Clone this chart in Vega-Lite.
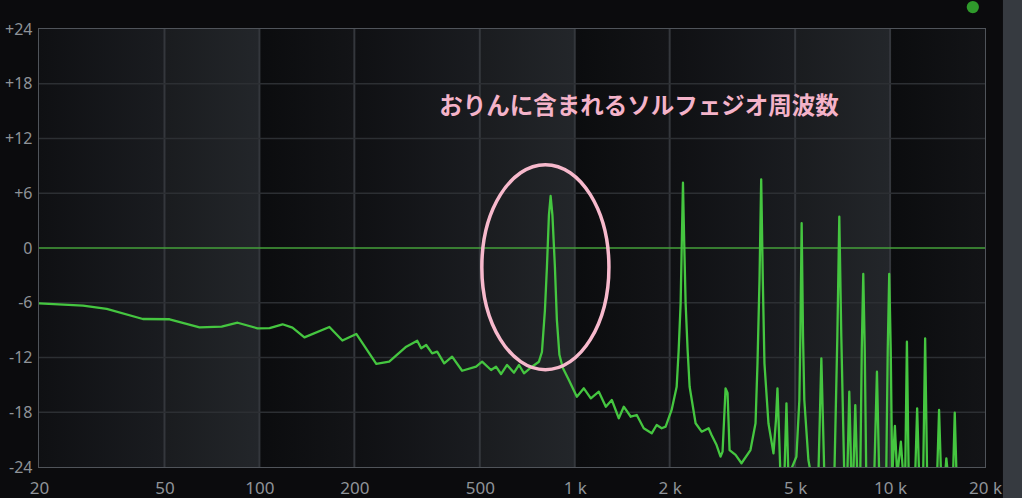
{
  "$schema": "https://vega.github.io/schema/vega-lite/v6.json",
  "width": 946,
  "height": 438,
  "autosize": "none",
  "padding": {"left": 39, "top": 29, "right": 37, "bottom": 31},
  "background": "#0b0b0d",
  "config": {
    "view": {"stroke": "#50545a", "strokeWidth": 2},
    "axis": {"domain": false, "ticks": false, "tickSize": 0, "grid": false, "labelColor": "#8f9398", "labelFont": "Noto Sans", "labelFontSize": 16, "title": null}
  },
  "datasets": {
    "bands": [
      {"lo": 20, "hi": 50, "tone": "mid"},
      {"lo": 50, "hi": 100, "tone": "light"},
      {"lo": 100, "hi": 200, "tone": "dark"},
      {"lo": 200, "hi": 500, "tone": "mid"},
      {"lo": 500, "hi": 1000, "tone": "light"},
      {"lo": 1000, "hi": 2000, "tone": "dark"},
      {"lo": 2000, "hi": 5000, "tone": "mid"},
      {"lo": 5000, "hi": 10000, "tone": "light"},
      {"lo": 10000, "hi": 20000, "tone": "dark"}
    ],
    "panel": [{"lo": 22800, "hi": 27000, "top": 30, "bottom": -30}],
    "lamp": [{"f": 18300, "db": 26.4}],
    "xgrid": [{"f": 50}, {"f": 100}, {"f": 200}, {"f": 500}, {"f": 1000}, {"f": 2000}, {"f": 5000}, {"f": 10000}],
    "ygrid": [{"db": -18}, {"db": -12}, {"db": -6}, {"db": 6}, {"db": 12}, {"db": 18}],
    "zero": [{"db": 0}],
    "note": [{"f": 372, "db": 15.4, "label": "おりんに含まれるソルフェジオ周波数"}],
    "circle": [{"f": 807, "db": -2.1}],
    "spectrum": [
      {"f": 20, "db": -6.06}, {"f": 27.6, "db": -6.32}, {"f": 32.8, "db": -6.68}, {"f": 42.7, "db": -7.78},
      {"f": 51.9, "db": -7.81}, {"f": 64.6, "db": -8.69}, {"f": 75.9, "db": -8.62}, {"f": 85.3, "db": -8.19},
      {"f": 98.6, "db": -8.8}, {"f": 107.7, "db": -8.77}, {"f": 118.4, "db": -8.36}, {"f": 127.3, "db": -8.73},
      {"f": 138.9, "db": -9.79}, {"f": 166.7, "db": -8.66}, {"f": 183.3, "db": -10.14}, {"f": 202.9, "db": -9.42},
      {"f": 234.8, "db": -12.69}, {"f": 258, "db": -12.46}, {"f": 292.2, "db": -10.82}, {"f": 316.6, "db": -10.16},
      {"f": 325.9, "db": -10.99}, {"f": 338, "db": -10.63}, {"f": 353, "db": -11.54}, {"f": 366.2, "db": -11.36},
      {"f": 385.5, "db": -12.64}, {"f": 408.4, "db": -11.91}, {"f": 439.4, "db": -13.45}, {"f": 486.6, "db": -13.01},
      {"f": 508.4, "db": -12.46}, {"f": 542.8, "db": -13.37}, {"f": 562.8, "db": -13.01}, {"f": 583.8, "db": -13.81},
      {"f": 610, "db": -12.82}, {"f": 641.8, "db": -13.67}, {"f": 665.8, "db": -12.82}, {"f": 690.2, "db": -13.73},
      {"f": 731.8, "db": -13.01}, {"f": 769.8, "db": -12.46}, {"f": 787, "db": -11.4}, {"f": 804.4, "db": -6.8},
      {"f": 816.2, "db": -2.08}, {"f": 828.2, "db": 3.6}, {"f": 838.6, "db": 5.7}, {"f": 849.6, "db": 3.6},
      {"f": 865.2, "db": -2.08}, {"f": 877.8, "db": -7.9}, {"f": 894, "db": -11.7}, {"f": 917, "db": -13.15},
      {"f": 958, "db": -14.47}, {"f": 1015.6, "db": -16.3}, {"f": 1068.8, "db": -15.38}, {"f": 1124.7, "db": -16.47},
      {"f": 1192.3, "db": -15.75}, {"f": 1254.8, "db": -17.39}, {"f": 1310.8, "db": -16.66}, {"f": 1379.4, "db": -18.66},
      {"f": 1430.6, "db": -17.39}, {"f": 1505.6, "db": -18.49}, {"f": 1572.8, "db": -18.3}, {"f": 1655, "db": -19.76},
      {"f": 1754, "db": -20.31}, {"f": 1819, "db": -19.4}, {"f": 1887, "db": -19.76}, {"f": 1942, "db": -19.58},
      {"f": 2029, "db": -17.75}, {"f": 2105, "db": -15.2}, {"f": 2136, "db": -11.18}, {"f": 2167, "db": -6.03},
      {"f": 2186, "db": 0.88}, {"f": 2204, "db": 7.16}, {"f": 2223, "db": 0.88}, {"f": 2247, "db": -6.03},
      {"f": 2280, "db": -11.18}, {"f": 2314, "db": -15.2}, {"f": 2417, "db": -19.21}, {"f": 2526, "db": -20.13},
      {"f": 2658, "db": -19.76}, {"f": 2716, "db": -20.49}, {"f": 2817, "db": -21.6}, {"f": 2900, "db": -22.87},
      {"f": 2943, "db": -22.32}, {"f": 2986, "db": -17.75}, {"f": 3008, "db": -15.38}, {"f": 3052, "db": -15.89},
      {"f": 3097, "db": -22.14}, {"f": 3236, "db": -22.68}, {"f": 3379, "db": -23.59}, {"f": 3608, "db": -22.14},
      {"f": 3744, "db": -19.21}, {"f": 3798, "db": -12.64}, {"f": 3854, "db": -3.5}, {"f": 3902, "db": 7.53},
      {"f": 3948, "db": -3.5}, {"f": 3996, "db": -12.64}, {"f": 4114, "db": -19.21}, {"f": 4268, "db": -22.5},
      {"f": 4346, "db": -18.85}, {"f": 4394, "db": -15.38}, {"f": 4442, "db": -19.95}, {"f": 4492, "db": -25},
      {"f": 4623, "db": -25}, {"f": 4692, "db": -17.02}, {"f": 4760, "db": -25}, {"f": 5046, "db": -22.87},
      {"f": 5156, "db": -16.66}, {"f": 5194, "db": -9.72}, {"f": 5243, "db": 2.71}, {"f": 5296, "db": -9.72},
      {"f": 5346, "db": -16.66}, {"f": 5508, "db": -23.23}, {"f": 5628, "db": -25}, {"f": 5923, "db": -25},
      {"f": 6054, "db": -12.09}, {"f": 6188, "db": -25}, {"f": 6657, "db": -25}, {"f": 6804, "db": -9.72},
      {"f": 6902, "db": 3.43}, {"f": 7004, "db": -9.72}, {"f": 7158, "db": -25}, {"f": 7318, "db": -25},
      {"f": 7424, "db": -15.75}, {"f": 7534, "db": -25}, {"f": 7644, "db": -25}, {"f": 7756, "db": -17.21},
      {"f": 7870, "db": -25}, {"f": 8044, "db": -25}, {"f": 8132, "db": -11.18}, {"f": 8222, "db": -2.85},
      {"f": 8312, "db": -11.18}, {"f": 8404, "db": -25}, {"f": 8908, "db": -25}, {"f": 9086, "db": -13.56},
      {"f": 9238, "db": -25}, {"f": 9722, "db": -25}, {"f": 9830, "db": -11.18}, {"f": 9938, "db": -2.85},
      {"f": 10048, "db": -11.18}, {"f": 10158, "db": -25}, {"f": 10358, "db": -19.5}, {"f": 10534, "db": -25},
      {"f": 10822, "db": -21.23}, {"f": 11006, "db": -25}, {"f": 11168, "db": -25}, {"f": 11308, "db": -10.27},
      {"f": 11456, "db": -25}, {"f": 12010, "db": -25}, {"f": 12186, "db": -17.57}, {"f": 12364, "db": -25},
      {"f": 12732, "db": -25}, {"f": 12918, "db": -9.9}, {"f": 13108, "db": -25}, {"f": 14096, "db": -25},
      {"f": 14302, "db": -17.75}, {"f": 14512, "db": -25}, {"f": 14938, "db": -25}, {"f": 15082, "db": -23.05},
      {"f": 15272, "db": -25}, {"f": 15838, "db": -25}, {"f": 16036, "db": -18.05}, {"f": 16248, "db": -25},
      {"f": 20000, "db": -25}
    ]
  },
  "layer": [
    {
      "data": {"name": "bands"},
      "transform": [{"filter": "datum.tone === 'dark'"}],
      "mark": {"type": "rect", "fill": {"gradient": "linear", "x1": 0, "y1": 0, "x2": 1, "y2": 0, "stops": [{"offset": 0, "color": "#0b0c0e"}, {"offset": 1, "color": "#131417"}]}},
      "encoding": {
        "x": {"field": "lo", "type": "quantitative", "scale": {"type": "log", "domain": [20, 20000], "nice": false},
              "axis": {"values": [20, 50, 100, 200, 500, 1000, 2000, 5000, 10000, 20000], "labelExpr": "datum.value >= 1000 ? (datum.value / 1000) + ' k' : '' + datum.value", "labelFlush": false, "labelOverlap": false, "labelBaseline": "middle", "labelPadding": 21, "labelFontSize": 17}},
        "x2": {"field": "hi"}
      }
    },
    {
      "data": {"name": "bands"},
      "transform": [{"filter": "datum.tone === 'mid'"}],
      "mark": {"type": "rect", "fill": {"gradient": "linear", "x1": 0, "y1": 0, "x2": 1, "y2": 0, "stops": [{"offset": 0, "color": "#0f1013"}, {"offset": 1, "color": "#1a1c20"}]}},
      "encoding": {
        "x": {"field": "lo", "type": "quantitative"},
        "x2": {"field": "hi"}
      }
    },
    {
      "data": {"name": "bands"},
      "transform": [{"filter": "datum.tone === 'light'"}],
      "mark": {"type": "rect", "fill": {"gradient": "linear", "x1": 0, "y1": 0, "x2": 1, "y2": 0, "stops": [{"offset": 0, "color": "#1a1c1f"}, {"offset": 1, "color": "#23262a"}]}},
      "encoding": {
        "x": {"field": "lo", "type": "quantitative"},
        "x2": {"field": "hi"}
      }
    },
    {
      "data": {"name": "panel"},
      "mark": {"type": "rect", "color": "#363a40", "clip": false},
      "encoding": {
        "x": {"field": "lo", "type": "quantitative"},
        "x2": {"field": "hi"},
        "y": {"field": "top", "type": "quantitative"},
        "y2": {"field": "bottom"}
      }
    },
    {
      "data": {"name": "lamp"},
      "mark": {"type": "circle", "color": "#2f9a2b", "size": 150, "opacity": 1, "clip": false},
      "encoding": {
        "x": {"field": "f", "type": "quantitative"},
        "y": {"field": "db", "type": "quantitative"}
      }
    },
    {
      "data": {"name": "xgrid"},
      "mark": {"type": "rule", "color": "#34373c", "strokeWidth": 2},
      "encoding": {"x": {"field": "f", "type": "quantitative"}}
    },
    {
      "data": {"name": "ygrid"},
      "mark": {"type": "rule", "color": "#2c2f33", "strokeWidth": 1.5},
      "encoding": {
        "y": {"field": "db", "type": "quantitative", "scale": {"domain": [-24, 24], "nice": false},
              "axis": {"values": [-24, -18, -12, -6, 0, 6, 12, 18, 24], "labelExpr": "datum.value > 0 ? '+' + datum.value : '' + datum.value", "labelPadding": 7, "labelFontSize": 16}}
      }
    },
    {
      "data": {"name": "zero"},
      "mark": {"type": "rule", "color": "#44a03a", "strokeWidth": 1.6},
      "encoding": {"y": {"field": "db", "type": "quantitative"}}
    },
    {
      "data": {"name": "spectrum"},
      "mark": {"type": "line", "color": "#45c640", "strokeWidth": 2.3, "clip": true, "strokeJoin": "round"},
      "encoding": {
        "x": {"field": "f", "type": "quantitative"},
        "y": {"field": "db", "type": "quantitative"}
      }
    },
    {
      "data": {"name": "circle"},
      "mark": {"type": "point", "shape": "M -0.62,0 A 0.62,1 0 1,0 0.62,0 A 0.62,1 0 1,0 -0.62,0 Z", "size": 42025, "filled": false, "stroke": "#f7b9cc", "strokeWidth": 3.5, "opacity": 1},
      "encoding": {
        "x": {"field": "f", "type": "quantitative"},
        "y": {"field": "db", "type": "quantitative"}
      }
    },
    {
      "data": {"name": "note"},
      "mark": {"type": "text", "align": "left", "baseline": "middle", "font": "Noto Sans CJK JP", "fontWeight": "bold", "fontSize": 23.5, "color": "#f4b3c9"},
      "encoding": {
        "x": {"field": "f", "type": "quantitative"},
        "y": {"field": "db", "type": "quantitative"},
        "text": {"field": "label"}
      }
    }
  ]
}
